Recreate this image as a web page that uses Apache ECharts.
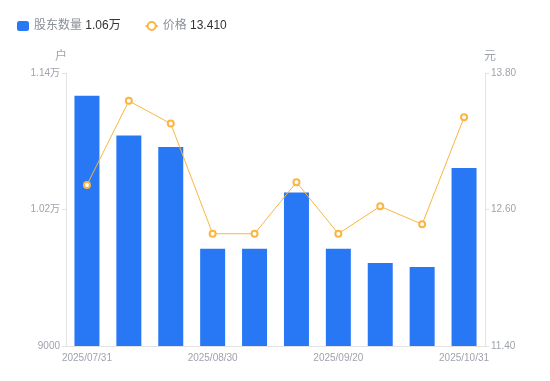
<!DOCTYPE html>
<html><head><meta charset="utf-8">
<script src="https://cdn.jsdelivr.net/npm/echarts@6/dist/echarts.min.js"></script>
<style>html,body{margin:0;padding:0;background:#fff}#c{width:550px;height:381px}</style>
</head><body><div id="c"></div>
<script>
const categories = ['2025/07/31','2025/08/10','2025/08/20','2025/08/30','2025/09/05','2025/09/10','2025/09/20','2025/09/30','2025/10/20','2025/10/31'];
const holders = [11200, 10850, 10750, 9855, 9855, 10350, 9855, 9730, 9695, 10565];
const prices = [12.815, 13.555, 13.355, 12.387, 12.387, 12.84, 12.387, 12.628, 12.47, 13.41];
const leftTicks = [9000, 10200, 11400];
const rightTicks = [11.40, 12.60, 13.80];

const fmtHolders = v => v >= 10000 ? (v / 10000).toFixed(2) + '万' : String(v);
const chart = echarts.init(document.getElementById('c'));
const font = '"Liberation Sans", Arial, "Noto Sans CJK SC", sans-serif';
chart.setOption({
  animation: false,
  textStyle: { fontFamily: font },
  legend: {
    left: 12, top: 15, itemWidth: 12, itemHeight: 10, itemGap: 24,
    data: [{ name: '股东数量', icon: 'roundRect', itemStyle: { borderRadius: 2 } }, { name: '价格' }],
    formatter: name => name === '股东数量'
      ? '{n|股东数量} {v|' + fmtHolders(holders[holders.length - 1]) + '}'
      : '{n|价格} {v|' + prices[prices.length - 1].toFixed(3) + '}',
    textStyle: { rich: { n: { color: '#8a8f99', fontSize: 12, fontFamily: font }, v: { color: '#333', fontSize: 12, fontFamily: font } } }
  },
  grid: { left: 66, right: 65, top: 73, bottom: 35 },
  xAxis: {
    type: 'category', data: categories,
    axisLine: { lineStyle: { color: '#e3e3e3' } },
    axisTick: { show: false },
    axisLabel: { color: '#a0a3ad', fontSize: 10, interval: 2, margin: 7 }
  },
  yAxis: [{
    type: 'value', name: '户', min: leftTicks[0], max: leftTicks[2], interval: leftTicks[1] - leftTicks[0],
    nameTextStyle: { color: '#a0a3ad', fontSize: 12, padding: [0, 10, 0, 0] }, nameGap: 10,
    axisLine: { show: true, lineStyle: { color: '#e3e3e3' } },
    axisTick: { show: true, length: 4, lineStyle: { color: '#e3e3e3' } },
    splitLine: { show: false },
    axisLabel: { color: '#a0a3ad', fontSize: 10, formatter: fmtHolders, margin: 6 }
  }, {
    type: 'value', name: '元', min: rightTicks[0], max: rightTicks[2], interval: rightTicks[1] - rightTicks[0],
    nameTextStyle: { color: '#a0a3ad', fontSize: 12, padding: [0, 0, 0, 10] }, nameGap: 10,
    axisLine: { show: true, lineStyle: { color: '#e3e3e3' } },
    axisTick: { show: true, length: 4, lineStyle: { color: '#e3e3e3' } },
    splitLine: { show: false },
    axisLabel: { color: '#a0a3ad', fontSize: 10, formatter: v => v.toFixed(2), margin: 6 }
  }],
  series: [{
    name: '股东数量', type: 'bar', data: holders, barWidth: 25, yAxisIndex: 0,
    itemStyle: { color: '#2878f5' }
  }, {
    name: '价格', type: 'line', data: prices, yAxisIndex: 1,
    symbol: 'emptyCircle', symbolSize: 6,
    lineStyle: { color: '#fbb540', width: 1 },
    itemStyle: { color: '#fbb540', borderWidth: 2 }
  }]
});
</script></body></html>
